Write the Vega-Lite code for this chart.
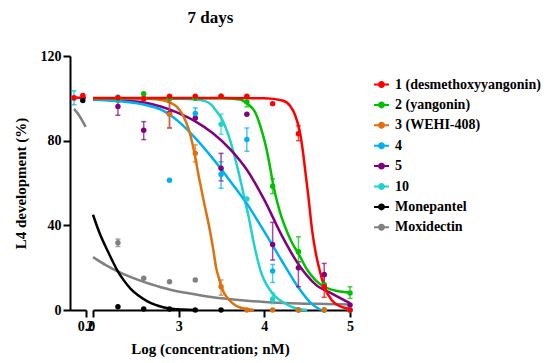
{
  "$schema": "https://vega.github.io/schema/vega-lite/v6.json",
  "background": "white",
  "padding": {"left": 13, "top": 9, "right": 5, "bottom": 5},
  "config": {
    "font": "Liberation Serif, Times New Roman, serif",
    "view": {"stroke": null},
    "title": {"font": "Liberation Serif, Times New Roman, serif"},
    "axis": {"grid": false, "domainColor": "black", "domainWidth": 2, "tickColor": "black", "tickWidth": 2, "tickSize": 7, "labelFont": "Liberation Serif, Times New Roman, serif", "labelFontWeight": "bold", "labelFontSize": 14, "labelColor": "black", "labelPadding": 2, "titleFont": "Liberation Serif, Times New Roman, serif", "titleFontWeight": "bold", "titleFontSize": 15, "titleColor": "black", "labelFlush": false, "labelOverlap": false},
    "legend": {"labelFont": "Liberation Serif, Times New Roman, serif", "labelFontWeight": "bold", "labelFontSize": 14, "labelColor": "black", "symbolSize": 225, "symbolStrokeWidth": 2, "rowPadding": 4.4, "labelOffset": 5, "padding": 0}
  },
  "datasets": {
    "ctrlCurve": [
      {"s": "Moxidectin", "x": -0.15, "y": 95},
      {"s": "Moxidectin", "x": -0.0875, "y": 92},
      {"s": "Moxidectin", "x": -0.004, "y": 86.5},
      {"s": "1 (desmethoxyyangonin)", "x": -0.15, "y": 100.3},
      {"s": "1 (desmethoxyyangonin)", "x": 0, "y": 100.3}
    ],
    "ctrlPts": [
      {"s": "Monepantel", "x": -0.04, "y": 99},
      {"s": "4", "x": -0.15, "y": 100},
      {"s": "1 (desmethoxyyangonin)", "x": -0.15, "y": 100.3},
      {"s": "1 (desmethoxyyangonin)", "x": -0.04, "y": 101.4}
    ],
    "ctrlErr": [
      {"s": "4", "x": -0.15, "lo": 97, "hi": 103.5}
    ],
    "curves": [
      {"s": "Moxidectin", "x": 2.0, "y": 25},
      {"s": "Moxidectin", "x": 2.15, "y": 21.2},
      {"s": "Moxidectin", "x": 2.3, "y": 18},
      {"s": "Moxidectin", "x": 2.45, "y": 15.4},
      {"s": "Moxidectin", "x": 2.6, "y": 13.2},
      {"s": "Moxidectin", "x": 2.75, "y": 11.3},
      {"s": "Moxidectin", "x": 2.9, "y": 9.6},
      {"s": "Moxidectin", "x": 3.1, "y": 8},
      {"s": "Moxidectin", "x": 3.4, "y": 6},
      {"s": "Moxidectin", "x": 3.7, "y": 4.7},
      {"s": "Moxidectin", "x": 4.0, "y": 3.8},
      {"s": "Moxidectin", "x": 4.3, "y": 3.2},
      {"s": "Moxidectin", "x": 4.6, "y": 2.9},
      {"s": "Moxidectin", "x": 5.0, "y": 2.6},
      {"s": "Monepantel", "x": 2.0, "y": 45},
      {"s": "Monepantel", "x": 2.08, "y": 36},
      {"s": "Monepantel", "x": 2.17, "y": 28},
      {"s": "Monepantel", "x": 2.28, "y": 19},
      {"s": "Monepantel", "x": 2.36, "y": 14},
      {"s": "Monepantel", "x": 2.44, "y": 10},
      {"s": "Monepantel", "x": 2.53, "y": 6.8},
      {"s": "Monepantel", "x": 2.63, "y": 4.2},
      {"s": "Monepantel", "x": 2.73, "y": 2.4},
      {"s": "Monepantel", "x": 2.83, "y": 1.2},
      {"s": "Monepantel", "x": 2.94, "y": 0.5},
      {"s": "Monepantel", "x": 3.05, "y": 0.2},
      {"s": "Monepantel", "x": 3.2, "y": 0},
      {"s": "10", "x": 2.0, "y": 100},
      {"s": "10", "x": 2.5, "y": 100},
      {"s": "10", "x": 3.0, "y": 99.8},
      {"s": "10", "x": 3.2, "y": 99.5},
      {"s": "10", "x": 3.3, "y": 98.8},
      {"s": "10", "x": 3.38, "y": 97},
      {"s": "10", "x": 3.44, "y": 94},
      {"s": "10", "x": 3.5, "y": 90.5},
      {"s": "10", "x": 3.56, "y": 85},
      {"s": "10", "x": 3.61, "y": 79},
      {"s": "10", "x": 3.66, "y": 71.5},
      {"s": "10", "x": 3.7, "y": 65},
      {"s": "10", "x": 3.74, "y": 58},
      {"s": "10", "x": 3.78, "y": 50.5},
      {"s": "10", "x": 3.82, "y": 43.5},
      {"s": "10", "x": 3.87, "y": 33},
      {"s": "10", "x": 3.92, "y": 24},
      {"s": "10", "x": 3.96, "y": 18},
      {"s": "10", "x": 4.0, "y": 14},
      {"s": "10", "x": 4.06, "y": 9.8},
      {"s": "10", "x": 4.13, "y": 6.3},
      {"s": "10", "x": 4.21, "y": 3.9},
      {"s": "10", "x": 4.3, "y": 1.8},
      {"s": "10", "x": 4.39, "y": 0.5},
      {"s": "10", "x": 4.5, "y": 0},
      {"s": "5", "x": 2.0, "y": 99.5},
      {"s": "5", "x": 2.3, "y": 99},
      {"s": "5", "x": 2.6, "y": 98},
      {"s": "5", "x": 2.8, "y": 96},
      {"s": "5", "x": 3.0, "y": 93},
      {"s": "5", "x": 3.2, "y": 89},
      {"s": "5", "x": 3.4, "y": 83.5},
      {"s": "5", "x": 3.6, "y": 76},
      {"s": "5", "x": 3.8, "y": 66},
      {"s": "5", "x": 4.0, "y": 52},
      {"s": "5", "x": 4.2, "y": 35.5},
      {"s": "5", "x": 4.4, "y": 21.5},
      {"s": "5", "x": 4.6, "y": 12},
      {"s": "5", "x": 4.8, "y": 7.5},
      {"s": "5", "x": 5.0, "y": 3.2},
      {"s": "4", "x": 2.0, "y": 99.5},
      {"s": "4", "x": 2.3, "y": 98.7},
      {"s": "4", "x": 2.6, "y": 97},
      {"s": "4", "x": 2.8, "y": 94.5},
      {"s": "4", "x": 3.0, "y": 89},
      {"s": "4", "x": 3.2, "y": 81},
      {"s": "4", "x": 3.4, "y": 71.5},
      {"s": "4", "x": 3.6, "y": 61},
      {"s": "4", "x": 3.8, "y": 50},
      {"s": "4", "x": 4.0, "y": 37},
      {"s": "4", "x": 4.2, "y": 23.5},
      {"s": "4", "x": 4.4, "y": 10.5},
      {"s": "4", "x": 4.55, "y": 3},
      {"s": "4", "x": 4.66, "y": 0},
      {"s": "3 (WEHI-408)", "x": 2.0, "y": 100},
      {"s": "3 (WEHI-408)", "x": 2.5, "y": 100},
      {"s": "3 (WEHI-408)", "x": 2.7, "y": 99.7},
      {"s": "3 (WEHI-408)", "x": 2.8, "y": 99.2},
      {"s": "3 (WEHI-408)", "x": 2.9, "y": 98},
      {"s": "3 (WEHI-408)", "x": 2.98, "y": 96},
      {"s": "3 (WEHI-408)", "x": 3.05, "y": 92},
      {"s": "3 (WEHI-408)", "x": 3.12, "y": 85},
      {"s": "3 (WEHI-408)", "x": 3.18, "y": 75},
      {"s": "3 (WEHI-408)", "x": 3.24, "y": 62},
      {"s": "3 (WEHI-408)", "x": 3.29, "y": 52},
      {"s": "3 (WEHI-408)", "x": 3.36, "y": 38.5},
      {"s": "3 (WEHI-408)", "x": 3.4, "y": 29.5},
      {"s": "3 (WEHI-408)", "x": 3.44, "y": 19.5},
      {"s": "3 (WEHI-408)", "x": 3.47, "y": 15},
      {"s": "3 (WEHI-408)", "x": 3.5, "y": 10.8},
      {"s": "3 (WEHI-408)", "x": 3.59, "y": 4.7},
      {"s": "3 (WEHI-408)", "x": 3.67, "y": 2},
      {"s": "3 (WEHI-408)", "x": 3.75, "y": 0.8},
      {"s": "3 (WEHI-408)", "x": 3.88, "y": 0},
      {"s": "2 (yangonin)", "x": 2.0, "y": 100},
      {"s": "2 (yangonin)", "x": 3.0, "y": 100},
      {"s": "2 (yangonin)", "x": 3.5, "y": 100},
      {"s": "2 (yangonin)", "x": 3.71, "y": 99.5},
      {"s": "2 (yangonin)", "x": 3.8, "y": 97.5},
      {"s": "2 (yangonin)", "x": 3.9, "y": 92.8},
      {"s": "2 (yangonin)", "x": 3.96, "y": 86},
      {"s": "2 (yangonin)", "x": 4.02, "y": 77},
      {"s": "2 (yangonin)", "x": 4.06, "y": 69},
      {"s": "2 (yangonin)", "x": 4.1, "y": 60},
      {"s": "2 (yangonin)", "x": 4.15, "y": 51},
      {"s": "2 (yangonin)", "x": 4.2, "y": 44},
      {"s": "2 (yangonin)", "x": 4.25, "y": 38.5},
      {"s": "2 (yangonin)", "x": 4.32, "y": 32},
      {"s": "2 (yangonin)", "x": 4.4, "y": 26.5},
      {"s": "2 (yangonin)", "x": 4.5, "y": 19},
      {"s": "2 (yangonin)", "x": 4.6, "y": 14},
      {"s": "2 (yangonin)", "x": 4.7, "y": 11},
      {"s": "2 (yangonin)", "x": 4.85, "y": 9},
      {"s": "2 (yangonin)", "x": 5.0, "y": 8.3},
      {"s": "1 (desmethoxyyangonin)", "x": 2.0, "y": 100.2},
      {"s": "1 (desmethoxyyangonin)", "x": 3.0, "y": 100.2},
      {"s": "1 (desmethoxyyangonin)", "x": 3.5, "y": 100.2},
      {"s": "1 (desmethoxyyangonin)", "x": 4.0, "y": 100},
      {"s": "1 (desmethoxyyangonin)", "x": 4.21, "y": 99},
      {"s": "1 (desmethoxyyangonin)", "x": 4.3, "y": 96.5},
      {"s": "1 (desmethoxyyangonin)", "x": 4.36, "y": 92},
      {"s": "1 (desmethoxyyangonin)", "x": 4.41, "y": 85},
      {"s": "1 (desmethoxyyangonin)", "x": 4.45, "y": 75},
      {"s": "1 (desmethoxyyangonin)", "x": 4.48, "y": 65},
      {"s": "1 (desmethoxyyangonin)", "x": 4.51, "y": 55},
      {"s": "1 (desmethoxyyangonin)", "x": 4.56, "y": 37},
      {"s": "1 (desmethoxyyangonin)", "x": 4.6, "y": 27},
      {"s": "1 (desmethoxyyangonin)", "x": 4.64, "y": 19.7},
      {"s": "1 (desmethoxyyangonin)", "x": 4.7, "y": 11},
      {"s": "1 (desmethoxyyangonin)", "x": 4.79, "y": 4.5},
      {"s": "1 (desmethoxyyangonin)", "x": 4.9, "y": 1.5},
      {"s": "1 (desmethoxyyangonin)", "x": 5.0, "y": 0.6}
    ],
    "pts": [
      {"s": "Moxidectin", "x": 2.291, "y": 31.8},
      {"s": "Moxidectin", "x": 2.592, "y": 15},
      {"s": "Moxidectin", "x": 2.893, "y": 13.4},
      {"s": "Moxidectin", "x": 3.194, "y": 14.2},
      {"s": "Monepantel", "x": 2.291, "y": 1.5},
      {"s": "Monepantel", "x": 2.592, "y": 0.5},
      {"s": "Monepantel", "x": 2.893, "y": 0.5},
      {"s": "Monepantel", "x": 3.194, "y": 0},
      {"s": "Monepantel", "x": 3.495, "y": 0},
      {"s": "10", "x": 2.291, "y": 100.6},
      {"s": "10", "x": 2.592, "y": 100},
      {"s": "10", "x": 2.893, "y": 100},
      {"s": "10", "x": 3.194, "y": 100},
      {"s": "10", "x": 3.495, "y": 87.7},
      {"s": "10", "x": 3.796, "y": 52.4},
      {"s": "10", "x": 4.097, "y": 5.2},
      {"s": "10", "x": 4.398, "y": 0},
      {"s": "10", "x": 4.699, "y": 0},
      {"s": "10", "x": 5.0, "y": 0},
      {"s": "5", "x": 2.291, "y": 96.2},
      {"s": "5", "x": 2.592, "y": 84.9},
      {"s": "5", "x": 2.893, "y": 93},
      {"s": "5", "x": 3.194, "y": 90.7},
      {"s": "5", "x": 3.495, "y": 67},
      {"s": "5", "x": 3.796, "y": 92.5},
      {"s": "5", "x": 4.097, "y": 31},
      {"s": "5", "x": 4.398, "y": 20},
      {"s": "5", "x": 4.699, "y": 16.8},
      {"s": "5", "x": 5.0, "y": 2.4},
      {"s": "4", "x": 2.291, "y": 99},
      {"s": "4", "x": 2.592, "y": 100},
      {"s": "4", "x": 2.893, "y": 61.3},
      {"s": "4", "x": 3.194, "y": 92.8},
      {"s": "4", "x": 3.495, "y": 64},
      {"s": "4", "x": 3.796, "y": 80.5},
      {"s": "4", "x": 4.097, "y": 18.4},
      {"s": "4", "x": 4.398, "y": 0},
      {"s": "4", "x": 4.699, "y": 0},
      {"s": "4", "x": 5.0, "y": 0},
      {"s": "3 (WEHI-408)", "x": 2.291, "y": 100},
      {"s": "3 (WEHI-408)", "x": 2.592, "y": 100},
      {"s": "3 (WEHI-408)", "x": 2.893, "y": 92.5},
      {"s": "3 (WEHI-408)", "x": 3.194, "y": 74},
      {"s": "3 (WEHI-408)", "x": 3.495, "y": 11},
      {"s": "3 (WEHI-408)", "x": 3.796, "y": 0},
      {"s": "3 (WEHI-408)", "x": 4.097, "y": 0},
      {"s": "3 (WEHI-408)", "x": 4.398, "y": 0},
      {"s": "3 (WEHI-408)", "x": 4.699, "y": 0},
      {"s": "2 (yangonin)", "x": 2.291, "y": 100},
      {"s": "2 (yangonin)", "x": 2.592, "y": 102.2},
      {"s": "2 (yangonin)", "x": 2.893, "y": 100},
      {"s": "2 (yangonin)", "x": 3.194, "y": 100},
      {"s": "2 (yangonin)", "x": 3.495, "y": 101},
      {"s": "2 (yangonin)", "x": 3.796, "y": 98.3},
      {"s": "2 (yangonin)", "x": 4.097, "y": 58.5},
      {"s": "2 (yangonin)", "x": 4.398, "y": 27.5},
      {"s": "2 (yangonin)", "x": 4.699, "y": 12},
      {"s": "2 (yangonin)", "x": 5.0, "y": 8},
      {"s": "1 (desmethoxyyangonin)", "x": 2.291, "y": 100.3},
      {"s": "1 (desmethoxyyangonin)", "x": 2.592, "y": 99.8},
      {"s": "1 (desmethoxyyangonin)", "x": 2.893, "y": 101},
      {"s": "1 (desmethoxyyangonin)", "x": 3.194, "y": 101},
      {"s": "1 (desmethoxyyangonin)", "x": 3.495, "y": 101},
      {"s": "1 (desmethoxyyangonin)", "x": 3.796, "y": 101},
      {"s": "1 (desmethoxyyangonin)", "x": 4.097, "y": 97.5},
      {"s": "1 (desmethoxyyangonin)", "x": 4.398, "y": 83.3},
      {"s": "1 (desmethoxyyangonin)", "x": 4.699, "y": 11},
      {"s": "1 (desmethoxyyangonin)", "x": 5.0, "y": 0}
    ],
    "errs": [
      {"s": "Moxidectin", "x": 2.291, "lo": 30, "hi": 33.5},
      {"s": "5", "x": 2.291, "lo": 92, "hi": 100},
      {"s": "5", "x": 2.592, "lo": 80.5, "hi": 89},
      {"s": "5", "x": 2.893, "lo": 86, "hi": 101},
      {"s": "3 (WEHI-408)", "x": 2.893, "lo": 86, "hi": 99},
      {"s": "3 (WEHI-408)", "x": 3.194, "lo": 70, "hi": 78},
      {"s": "4", "x": 3.194, "lo": 90.4, "hi": 95.5},
      {"s": "10", "x": 3.495, "lo": 83, "hi": 92.5},
      {"s": "5", "x": 3.495, "lo": 61, "hi": 74},
      {"s": "4", "x": 3.495, "lo": 57.5, "hi": 70},
      {"s": "3 (WEHI-408)", "x": 3.495, "lo": 7, "hi": 14.2},
      {"s": "4", "x": 3.796, "lo": 75, "hi": 86},
      {"s": "2 (yangonin)", "x": 3.796, "lo": 96, "hi": 101},
      {"s": "2 (yangonin)", "x": 4.097, "lo": 55, "hi": 62},
      {"s": "5", "x": 4.097, "lo": 23.6, "hi": 41.4},
      {"s": "4", "x": 4.097, "lo": 13, "hi": 21.5},
      {"s": "10", "x": 4.097, "lo": 3, "hi": 8},
      {"s": "2 (yangonin)", "x": 4.398, "lo": 20.4, "hi": 34.6},
      {"s": "5", "x": 4.398, "lo": 11, "hi": 22.8},
      {"s": "1 (desmethoxyyangonin)", "x": 4.398, "lo": 80, "hi": 87},
      {"s": "5", "x": 4.699, "lo": 11.8, "hi": 22},
      {"s": "1 (desmethoxyyangonin)", "x": 4.699, "lo": 6, "hi": 16},
      {"s": "2 (yangonin)", "x": 5.0, "lo": 5.5, "hi": 11}
    ]
  },
  "bounds": "flush",
  "spacing": 7,
  "resolve": {"scale": {"color": "shared"}},
  "hconcat": [
    {
      "width": 16,
      "height": 254,
      "encoding": {
        "x": {"field": "x", "type": "quantitative", "scale": {"domain": [-0.2, 0], "nice": false, "zero": false}, "axis": {"values": [0], "title": null, "labelAlign": "center", "labelDx": -5.5}},
        "y": {"field": "y", "type": "quantitative", "scale": {"domain": [0, 120], "nice": false}, "axis": {"values": [0, 40, 80, 120], "title": "L4 development (%)", "titlePadding": 12}},
        "color": {"field": "s", "type": "nominal", "scale": {"domain": ["1 (desmethoxyyangonin)", "2 (yangonin)", "3 (WEHI-408)", "4", "5", "10", "Monepantel", "Moxidectin"], "range": ["#FF0000", "#00C000", "#E0700E", "#00B0F0", "#800080", "#20D2CC", "#000000", "#808080"]}, "legend": {"title": null, "orient": "none", "legendX": 303, "legendY": 20, "symbolType": "M-1,0H1M-0.33,0A0.33,0.33,0,1,0,0.33,0A0.33,0.33,0,1,0,-0.33,0Z", "encode": {"symbols": {"update": {"fill": {"scale": "color", "field": "value"}, "stroke": {"scale": "color", "field": "value"}, "strokeWidth": {"value": 2}, "opacity": {"value": 1}}}}}}
      },
      "layer": [
        {"data": {"name": "ctrlCurve"}, "mark": {"type": "line", "strokeWidth": 2.5, "interpolate": "monotone"}},
        {"data": {"name": "ctrlErr"}, "mark": {"type": "errorbar", "ticks": true, "opacity": 0.7, "thickness": 1.5}, "encoding": {"y": {"field": "lo", "type": "quantitative"}, "y2": {"field": "hi"}}},
        {"data": {"name": "ctrlPts"}, "mark": {"type": "point", "filled": true, "size": 30, "opacity": 1}}
      ]
    },
    {
      "width": 257,
      "height": 254,
      "title": {"text": "7 days", "fontSize": 17, "fontWeight": "bold", "color": "black", "anchor": "middle", "frame": "group", "dx": -11, "offset": 29},
      "encoding": {
        "x": {"field": "x", "type": "quantitative", "scale": {"domain": [2, 5], "nice": false, "zero": false}, "axis": {"values": [2, 3, 4, 5], "title": "Log (concentration; nM)", "titleX": 117, "titlePadding": 8, "labelAlign": {"condition": {"test": "datum.value == 2", "value": "right"}, "value": "center"}, "labelDx": {"condition": {"test": "datum.value == 2", "value": 1.5}, "value": 0}}},
        "y": {"field": "y", "type": "quantitative", "scale": {"domain": [0, 120], "nice": false}, "axis": null},
        "color": {"field": "s", "type": "nominal", "legend": {"title": null, "orient": "none", "legendX": 303, "legendY": 20, "symbolType": "M-1,0H1M-0.33,0A0.33,0.33,0,1,0,0.33,0A0.33,0.33,0,1,0,-0.33,0Z", "encode": {"symbols": {"update": {"fill": {"scale": "color", "field": "value"}, "stroke": {"scale": "color", "field": "value"}, "strokeWidth": {"value": 2}, "opacity": {"value": 1}}}}}}
      },
      "layer": [
        {"data": {"name": "curves"}, "mark": {"type": "line", "strokeWidth": 2.5, "interpolate": "monotone"}},
        {"data": {"name": "errs"}, "mark": {"type": "errorbar", "ticks": true, "opacity": 0.7, "thickness": 1.5}, "encoding": {"y": {"field": "lo", "type": "quantitative"}, "y2": {"field": "hi"}}},
        {"data": {"name": "pts"}, "mark": {"type": "point", "filled": true, "size": 30, "opacity": 1}}
      ]
    }
  ]
}
